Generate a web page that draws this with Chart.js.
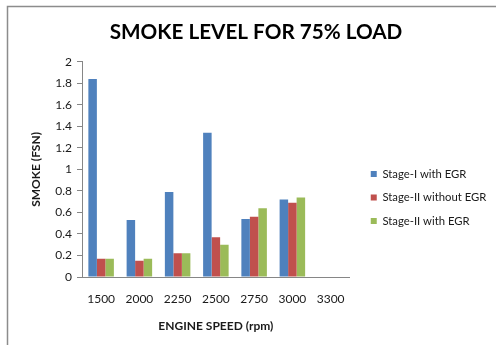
<!DOCTYPE html>
<html>
<head>
<meta charset="utf-8">
<script src="https://cdn.jsdelivr.net/npm/chart.js@4.4.1/dist/chart.umd.min.js"></script>
<style>
  html, body { margin: 0; padding: 0; background: #fff; }
  #wrap { width: 496px; height: 345px; position: relative; }
</style>
</head>
<body>
<div id="wrap"><canvas id="smoke" width="496" height="345"></canvas></div>
<script>
// Engine speeds (rpm) on the category axis
const speeds = ['1500', '2000', '2250', '2500', '2750', '3000', '3300'];

// Smoke opacity (FSN) for each configuration; no reading at 3300 rpm
const stage1WithEgr    = [1.84, 0.53, 0.79, 1.34, 0.54, 0.72, null];
const stage2WithoutEgr = [0.17, 0.15, 0.22, 0.37, 0.56, 0.69, null];
const stage2WithEgr    = [0.17, 0.17, 0.22, 0.30, 0.64, 0.74, null];

const seriesNames  = ['Stage-I with EGR', 'Stage-II without EGR', 'Stage-II with EGR'];
const seriesColors = ['#4F81BD', '#C0504D', '#9BBB59'];

const FONT = 'Lato';
const TEXT = '#1a1a1a';
const AXIS = '#868686';

// White page with the grey frame on the top and left edges
const framePlugin = {
  id: 'frame',
  beforeDraw(chart) {
    const c = chart.ctx;
    c.save();
    c.fillStyle = '#fff';
    c.fillRect(0, 0, chart.width, chart.height);
    c.strokeStyle = '#8c8c8c';
    c.lineWidth = 1.5;
    c.beginPath();
    c.moveTo(7.5, chart.height);
    c.lineTo(7.5, 6.5);
    c.lineTo(chart.width, 6.5);
    c.stroke();
    c.restore();
  }
};

// Fine placement of the title and legend after the layout pass
const TITLE_SHIFT_X = 17.5;
const LEGEND_SHIFT_X = 8.8;
const LEGEND_SHIFT_Y = 31;
const layoutNudge = {
  id: 'layoutNudge',
  afterLayout(chart) {
    const t = chart.titleBlock;
    if (t) { t.left += TITLE_SHIFT_X; t.right += TITLE_SHIFT_X; }
    const lg = chart.legend;
    if (lg) {
      lg.left += LEGEND_SHIFT_X;
      lg.right = chart.width;
      lg.top += LEGEND_SHIFT_Y;
      lg.bottom += LEGEND_SHIFT_Y;
    }
  }
};

new Chart(document.getElementById('smoke'), {
  type: 'bar',
  data: {
    labels: speeds,
    datasets: [stage1WithEgr, stage2WithoutEgr, stage2WithEgr].map((d, i) => ({
      label: seriesNames[i],
      data: d,
      backgroundColor: seriesColors[i],
      borderWidth: 0,
      categoryPercentage: 0.667,
      barPercentage: 1.0
    }))
  },
  options: {
    responsive: false,
    animation: false,
    layout: { padding: { left: 16, right: 35, top: 0, bottom: 12 } },
    plugins: {
      title: {
        display: true,
        text: 'SMOKE LEVEL FOR 75% LOAD',
        color: '#000',
        font: { family: FONT, size: 20.7, weight: 'bold' },
        padding: { top: 20, bottom: 17 }
      },
      legend: {
        position: 'right',
        labels: {
          boxWidth: 6,
          boxHeight: 6,
          padding: 12.2,
          color: TEXT,
          font: { family: FONT, size: 11.3 }
        }
      },
      tooltip: { enabled: false }
    },
    scales: {
      x: {
        grid: { display: false, drawTicks: false },
        border: { display: true, color: AXIS, width: 1 },
        ticks: { padding: 15, color: TEXT, font: { family: FONT, size: 12 } },
        title: {
          display: true,
          text: 'ENGINE SPEED (rpm)',
          color: TEXT,
          font: { family: FONT, size: 12, weight: 'bold' },
          padding: { top: 0, bottom: 0 }
        },
        afterFit(scale) { scale.height = 56; }
      },
      y: {
        min: 0,
        max: 2,
        grid: { drawOnChartArea: false, drawTicks: true, tickLength: 5, color: AXIS },
        border: { display: true, color: AXIS, width: 1 },
        ticks: {
          stepSize: 0.2,
          padding: 5,
          color: TEXT,
          font: { family: FONT, size: 12 },
          callback: v => String(Math.round(v * 10) / 10)
        },
        title: {
          display: true,
          text: 'SMOKE (FSN)',
          color: TEXT,
          font: { family: FONT, size: 12, weight: 'bold' },
          padding: { top: 13, bottom: 0 }
        },
        afterFit(scale) { scale.width = 66; }
      }
    }
  },
  plugins: [framePlugin, layoutNudge]
});
</script>
</body>
</html>
